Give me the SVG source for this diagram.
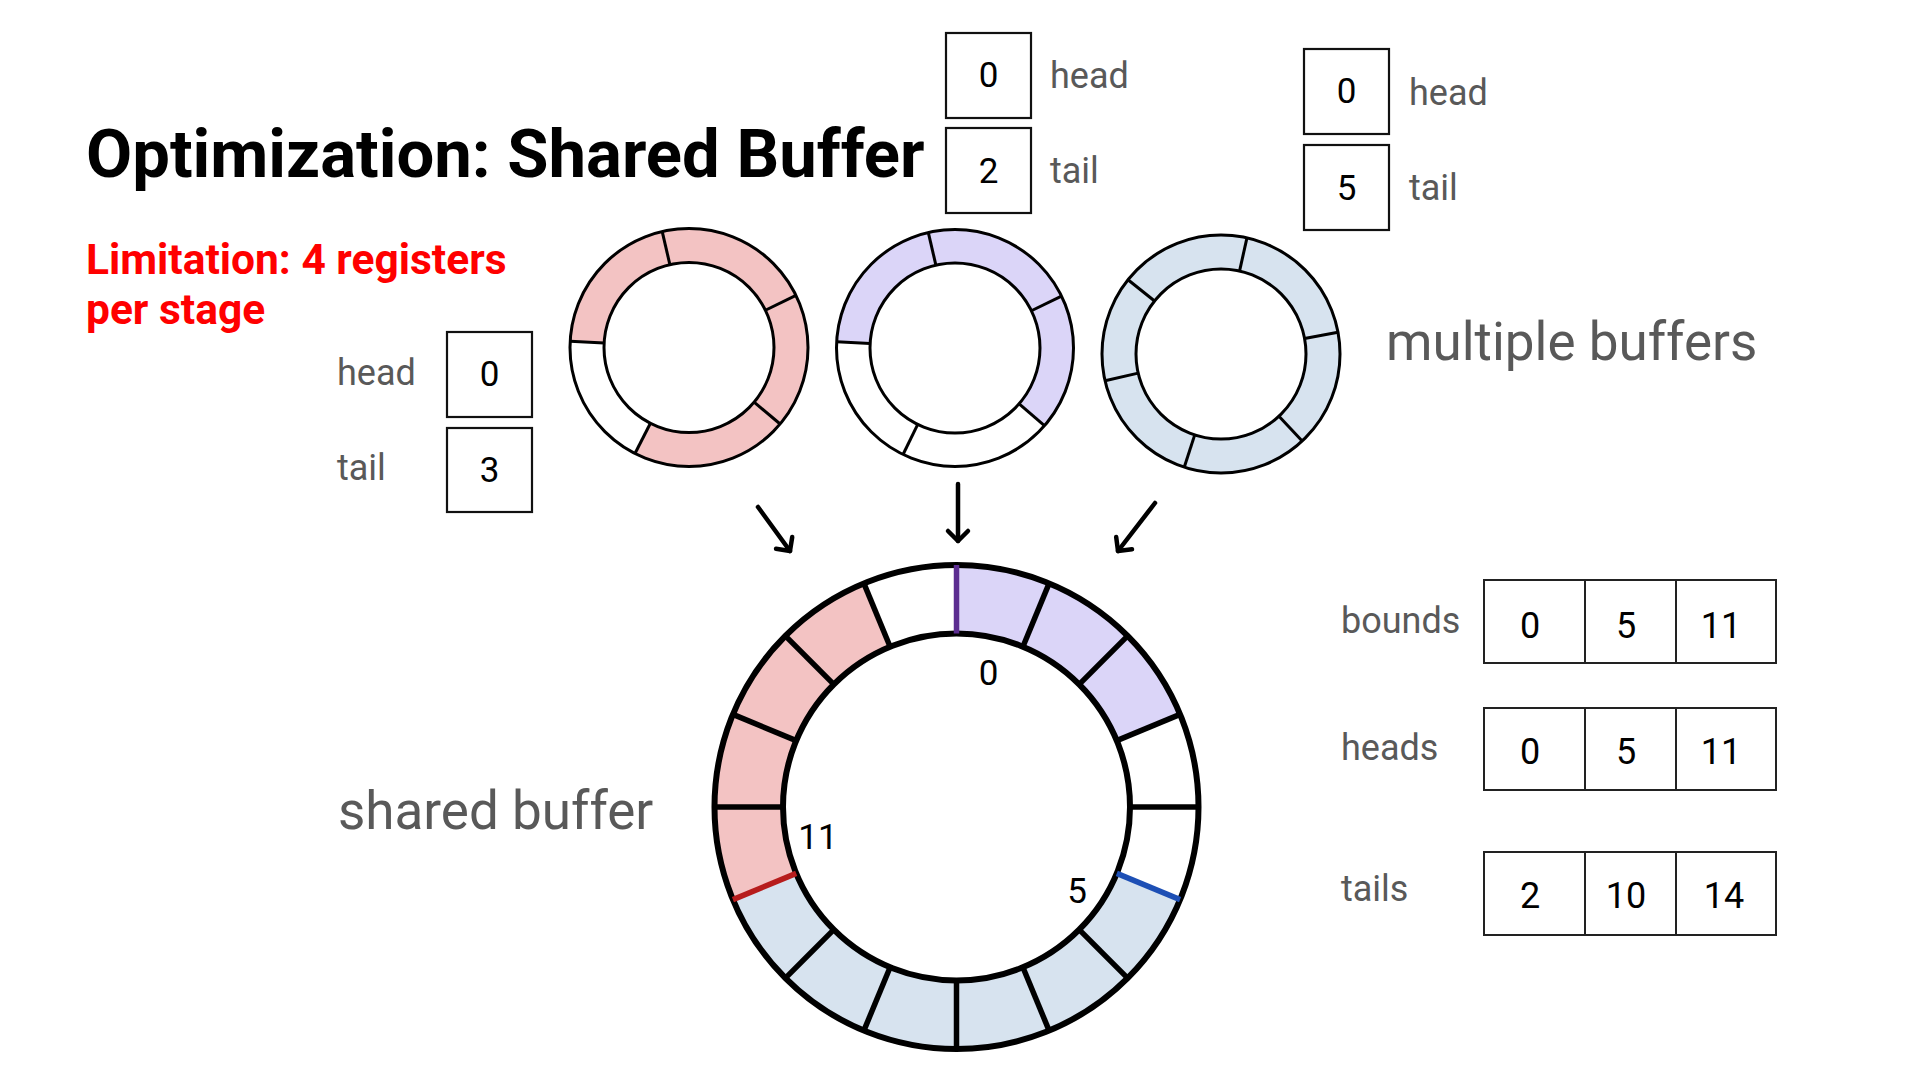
<svg xmlns="http://www.w3.org/2000/svg" width="1920" height="1080" viewBox="0 0 1920 1080">
<style>
.title{font-family:Roboto,"Liberation Sans",sans-serif;font-weight:bold;font-size:67px;fill:#000}
.warn{font-family:Roboto,"Liberation Sans",sans-serif;font-weight:bold;font-size:42.5px;fill:#ff0000}
.lbl{font-family:Roboto,"Liberation Sans",sans-serif;font-size:36px;fill:#595959}
.big{font-family:Roboto,"Liberation Sans",sans-serif;font-size:53px;fill:#595959}
.num{font-family:Roboto,"Liberation Sans",sans-serif;font-size:35px;fill:#000;text-anchor:middle}
.tnum{font-family:Roboto,"Liberation Sans",sans-serif;font-size:36px;fill:#000;text-anchor:middle}
.rnum{font-family:Roboto,"Liberation Sans",sans-serif;font-size:35px;fill:#000;text-anchor:middle}
.box{fill:#fff;stroke:#111;stroke-width:2.2}
.cell{fill:#fff;stroke:#222;stroke-width:2}
.sring{fill:none;stroke:#000;stroke-width:3}
.sdiv{stroke:#000;stroke-width:3}
.bring{fill:none;stroke:#000;stroke-width:6}
.bdiv{stroke:#000;stroke-width:5.5}
.pink{fill:#f3c3c3}
.purple{fill:#dbd5f8}
.blue{fill:#d7e3ef}
.arrow{stroke:#000;stroke-width:4.5;fill:none;stroke-linecap:round;marker-end:url(#chev)}
</style>
<defs>
<marker id="chev" viewBox="-14 -14 28 28" markerWidth="28" markerHeight="28" markerUnits="userSpaceOnUse" refX="0" refY="0" orient="auto">
<path d="M-10,-10 L0,0 L-10,10" fill="none" stroke="#000" stroke-width="4.5" stroke-linecap="round" stroke-linejoin="round"/>
</marker>
</defs>
<rect width="1920" height="1080" fill="#fff"/>

<g id="title"><text class="title" x="86" y="177">Optimization: Shared Buffer</text></g>
<g id="limitation"><text class="warn" x="86" y="274">Limitation: 4 registers</text><text class="warn" x="86" y="324">per stage</text></g>

<g id="regs-left">
<text class="lbl" x="337" y="385">head</text>
<text class="lbl" x="337" y="480">tail</text>
<rect class="box" x="447" y="332" width="85" height="85"/>
<text class="num" x="489.5" y="386">0</text>
<rect class="box" x="447" y="428" width="85" height="84"/>
<text class="num" x="489.5" y="482">3</text>
</g>

<g id="regs-middle">
<rect class="box" x="946" y="33" width="85" height="85"/>
<text class="num" x="988.5" y="87">0</text>
<rect class="box" x="946" y="128" width="85" height="85"/>
<text class="num" x="988.5" y="183">2</text>
<text class="lbl" x="1050" y="88">head</text>
<text class="lbl" x="1050" y="183">tail</text>
</g>

<g id="regs-right">
<rect class="box" x="1304" y="49" width="85" height="85"/>
<text class="num" x="1346.5" y="103">0</text>
<rect class="box" x="1304" y="145" width="85" height="85"/>
<text class="num" x="1346.5" y="200">5</text>
<text class="lbl" x="1409" y="105">head</text>
<text class="lbl" x="1409" y="200">tail</text>
</g>

<g id="ring-pink">
<path class="pink" d="M570.16,341.27 A119,119 0 1 1 634.98,453.53 L650.41,423.24 A85,85 0 1 0 604.12,343.05 Z"/>
<circle class="sring" cx="689" cy="347.5" r="119"/>
<circle class="sring" cx="689" cy="347.5" r="85"/>
<line class="sdiv" x1="662.23" y1="231.55" x2="669.88" y2="264.68"/>
<line class="sdiv" x1="795.96" y1="295.33" x2="765.40" y2="310.24"/>
<line class="sdiv" x1="780.16" y1="423.99" x2="754.11" y2="402.14"/>
<line class="sdiv" x1="634.98" y1="453.53" x2="650.41" y2="423.24"/>
<line class="sdiv" x1="570.16" y1="341.27" x2="604.12" y2="343.05"/>
</g>

<g id="ring-purple">
<path class="purple" d="M836.66,341.80 A118.5,118.5 0 1 1 1044.43,425.74 L1019.15,403.77 A85,85 0 1 0 870.12,343.55 Z"/>
<circle class="sring" cx="955" cy="348" r="118.5"/>
<circle class="sring" cx="955" cy="348" r="85"/>
<line class="sdiv" x1="928.34" y1="232.54" x2="935.88" y2="265.18"/>
<line class="sdiv" x1="1061.51" y1="296.05" x2="1031.40" y2="310.74"/>
<line class="sdiv" x1="1044.43" y1="425.74" x2="1019.15" y2="403.77"/>
<line class="sdiv" x1="903.05" y1="454.51" x2="917.74" y2="424.40"/>
<line class="sdiv" x1="836.66" y1="341.80" x2="870.12" y2="343.55"/>
</g>

<g id="ring-blue">
<path class="blue" fill-rule="evenodd" d="M1102,354 A119,119 0 1 1 1340,354 A119,119 0 1 1 1102,354 Z M1136,354 A85,85 0 1 0 1306,354 A85,85 0 1 0 1136,354 Z"/>
<circle class="sring" cx="1221" cy="354" r="119"/>
<circle class="sring" cx="1221" cy="354" r="85"/>
<line class="sdiv" x1="1246.96" y1="237.87" x2="1239.54" y2="271.05"/>
<line class="sdiv" x1="1338.01" y1="332.31" x2="1304.58" y2="338.51"/>
<line class="sdiv" x1="1302.16" y1="441.03" x2="1278.97" y2="416.16"/>
<line class="sdiv" x1="1184.23" y1="467.18" x2="1194.73" y2="434.84"/>
<line class="sdiv" x1="1105.05" y1="380.77" x2="1138.18" y2="373.12"/>
<line class="sdiv" x1="1128.0" y1="279.76" x2="1154.57" y2="300.97"/>
</g>

<g id="label-multiple"><text class="big" x="1386" y="360">multiple buffers</text></g>
<g id="label-shared"><text class="big" x="338" y="829">shared buffer</text></g>

<g id="connectors">
<line class="arrow" x1="758" y1="507" x2="790" y2="551"/>
<line class="arrow" x1="958" y1="484" x2="958" y2="541"/>
<line class="arrow" x1="1155" y1="503" x2="1118" y2="551"/>
</g>

<g id="shared-ring">
<path class="purple" d="M956.5,565 A242,242 0 0 1 1180.08,714.39 L1116.79,740.61 A173.5,173.5 0 0 0 956.5,633.5 Z"/>
<path class="blue" d="M1180.08,899.61 A242,242 0 0 1 732.92,899.61 L796.21,873.39 A173.5,173.5 0 0 0 1116.79,873.39 Z"/>
<path class="pink" d="M732.92,899.61 A242,242 0 0 1 863.89,583.42 L890.11,646.71 A173.5,173.5 0 0 0 796.21,873.39 Z"/>
<circle class="bring" cx="956.5" cy="807" r="242"/>
<circle class="bring" cx="956.5" cy="807" r="173.5"/>
<line class="bdiv" x1="1049.11" y1="583.42" x2="1022.89" y2="646.71"/>
<line class="bdiv" x1="1127.62" y1="635.88" x2="1079.18" y2="684.32"/>
<line class="bdiv" x1="1180.08" y1="714.39" x2="1116.79" y2="740.61"/>
<line class="bdiv" x1="1198.5" y1="807" x2="1130" y2="807"/>
<line class="bdiv" x1="1127.62" y1="978.12" x2="1079.18" y2="929.68"/>
<line class="bdiv" x1="1049.11" y1="1030.58" x2="1022.89" y2="967.29"/>
<line class="bdiv" x1="956.5" y1="1049" x2="956.5" y2="980.5"/>
<line class="bdiv" x1="863.89" y1="1030.58" x2="890.11" y2="967.29"/>
<line class="bdiv" x1="785.38" y1="978.12" x2="833.82" y2="929.68"/>
<line class="bdiv" x1="714.5" y1="807" x2="783" y2="807"/>
<line class="bdiv" x1="732.92" y1="714.39" x2="796.21" y2="740.61"/>
<line class="bdiv" x1="785.38" y1="635.88" x2="833.82" y2="684.32"/>
<line class="bdiv" x1="863.89" y1="583.42" x2="890.11" y2="646.71"/>
<line class="bdiv" x1="956.5" y1="565" x2="956.5" y2="633.5" style="stroke:#5c2d91"/>
<line class="bdiv" x1="1180.08" y1="899.61" x2="1116.79" y2="873.39" style="stroke:#1d4fb5"/>
<line class="bdiv" x1="732.92" y1="899.61" x2="796.21" y2="873.39" style="stroke:#b71c1c"/>
<text class="rnum" x="988.5" y="685">0</text>
<text class="rnum" x="818" y="849">11</text>
<text class="rnum" x="1077" y="903">5</text>
</g>

<g id="table">
<text class="lbl" x="1341" y="633">bounds</text>
<text class="lbl" x="1341" y="760">heads</text>
<text class="lbl" x="1341" y="901">tails</text>
<rect class="cell" x="1484" y="580" width="101" height="83"/>
<rect class="cell" x="1585" y="580" width="91" height="83"/>
<rect class="cell" x="1676" y="580" width="100" height="83"/>
<rect class="cell" x="1484" y="708" width="101" height="82"/>
<rect class="cell" x="1585" y="708" width="91" height="82"/>
<rect class="cell" x="1676" y="708" width="100" height="82"/>
<rect class="cell" x="1484" y="852" width="101" height="83"/>
<rect class="cell" x="1585" y="852" width="91" height="83"/>
<rect class="cell" x="1676" y="852" width="100" height="83"/>
<text class="tnum" x="1530" y="638">0</text>
<text class="tnum" x="1626" y="638">5</text>
<text class="tnum" x="1721" y="638">11</text>
<text class="tnum" x="1530" y="764">0</text>
<text class="tnum" x="1626" y="764">5</text>
<text class="tnum" x="1721" y="764">11</text>
<text class="tnum" x="1530" y="908">2</text>
<text class="tnum" x="1626" y="908">10</text>
<text class="tnum" x="1724" y="908">14</text>
</g>
</svg>
